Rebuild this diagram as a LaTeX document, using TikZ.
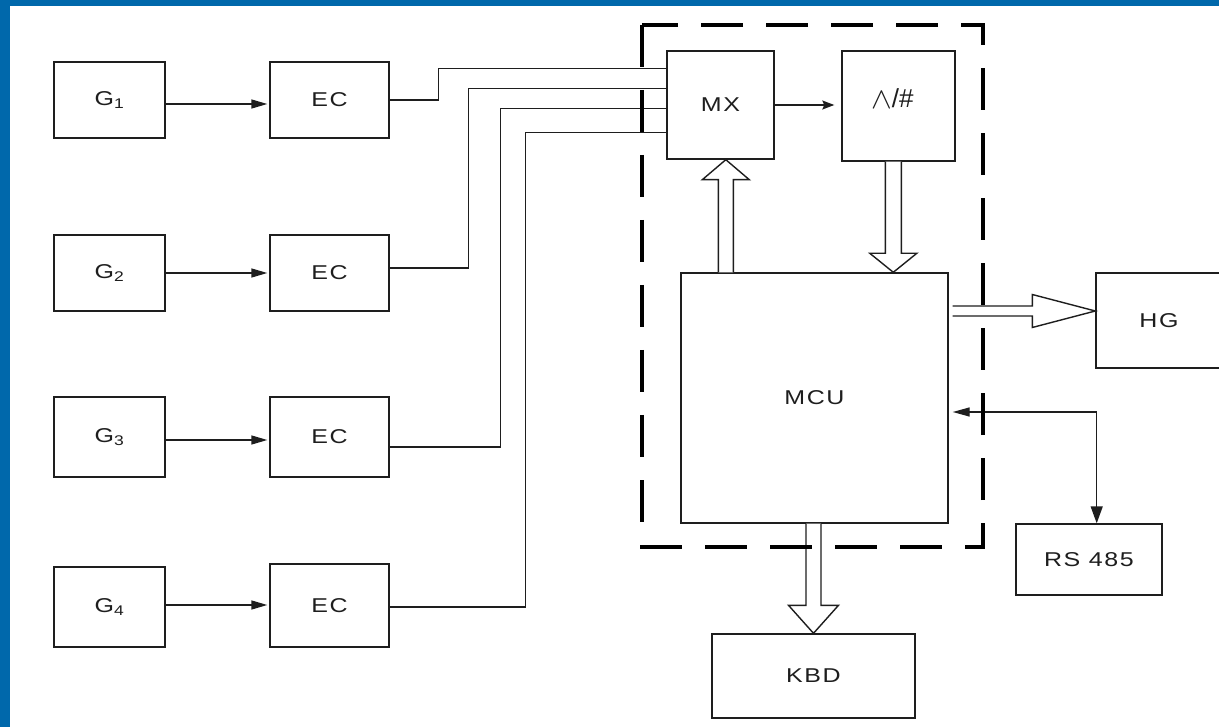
\documentclass[tikz,border=0pt]{standalone}
\usepackage{fontspec}
\usepackage{graphicx}
\setmainfont{Liberation Sans}
\newfontfamily\lblfont[FakeStretch=1.25,LetterSpace=8]{Liberation Sans}
\usetikzlibrary{arrows.meta,calc}
\definecolor{frameblue}{RGB}{0,104,171}
\definecolor{ink}{RGB}{30,30,30}
\begin{document}
\begin{tikzpicture}[x=1pt,y=-1pt,
  blk/.style={draw=ink, line width=1.4pt, inner sep=0pt, text=ink,
    font=\lblfont\fontsize{20}{22}\selectfont},
  wire/.style={draw=ink, line width=1.4pt},
  arr/.style={wire, -{Triangle[length=16pt,width=9pt]}},
  hollow/.style={draw=ink, line width=1.4pt, fill=white, line join=miter},
  frame/.style={draw=black, line width=4pt, dash pattern=on 42pt off 23pt}
]
% background and blue border
\fill[white] (0,0) rectangle (1219,727);
\fill[frameblue] (0,0) rectangle (1219,6);
\fill[frameblue] (0,0) rectangle (10,727);
\useasboundingbox (0,0) rectangle (1219,727);
\clip (0,0) rectangle (1219,727);

% sensor blocks
\node[blk, minimum width=111pt, minimum height=76pt] (g1) at (109.5,100) {G\textsubscript{1}};
\node[blk, minimum width=111pt, minimum height=76pt] (g2) at (109.5,273) {G\textsubscript{2}};
\node[blk, minimum width=111pt, minimum height=80pt] (g3) at (109.5,437) {G\textsubscript{3}};
\node[blk, minimum width=111pt, minimum height=80pt] (g4) at (109.5,607) {G\textsubscript{4}};

\node[blk, minimum width=119pt, minimum height=76pt] (ec1) at (329.5,100) {EC};
\node[blk, minimum width=119pt, minimum height=76pt] (ec2) at (329.5,273) {EC};
\node[blk, minimum width=119pt, minimum height=80pt] (ec3) at (329.5,437) {EC};
\node[blk, minimum width=119pt, minimum height=83pt] (ec4) at (329.5,605.5) {EC};

% core blocks
\node[blk, minimum width=107pt, minimum height=108pt] (mx) at (720.5,105) {MX};
\node[blk, minimum width=113pt, minimum height=110pt] (ad) at (898.5,106) {};
\node[text=ink, font=\fontsize{26}{28}\selectfont, inner sep=0pt] (adlbl) at ($(ad.center)+(-6,-7)$)
  {\raisebox{-1pt}{\scalebox{1.25}[1.2]{\fontsize{30}{32}\selectfont$\wedge$}}\kern-0.5pt/\#};
\node[blk, minimum width=267pt, minimum height=250pt] (mcu) at (814.5,398) {MCU};
\node[blk, minimum width=126pt, minimum height=95pt] (hg) at (1159,320.5) {HG};
\node[blk, minimum width=146pt, minimum height=71pt] (rs) at (1089,559.5) {RS 485};
\node[blk, minimum width=203pt, minimum height=84pt] (kbd) at (813.5,676) {KBD};

% G -> EC arrows
\draw[arr, shorten >=2pt] ($(g1.east)+(0,4)$) coordinate (a1) -- (a1 -| ec1.west);
\draw[arr, shorten >=2pt] (g2.east) -- (g2.east -| ec2.west);
\draw[arr, shorten >=2pt] ($(g3.east)+(0,3)$) coordinate (a3) -- (a3 -| ec3.west);
\draw[arr, shorten >=2pt] ($(g4.east)+(0,-2)$) coordinate (a4) -- (a4 -| ec4.west);

% EC -> MX wires
\draw[wire] (ec1.east) -- ++(49,0) |- ($(mx.north west)+(0,18)$);
\draw[wire] ($(ec2.east)+(0,-5)$) -- ++(79,0) |- ($(mx.north west)+(0,38)$);
\draw[wire] ($(ec3.east)+(0,10)$) -- ++(111,0) |- ($(mx.north west)+(0,58)$);
\draw[wire] ($(ec4.east)+(0,1.5)$) -- ++(136,0) |- ($(mx.north west)+(0,82)$);

% MX -> A/D
\draw[wire, -{Stealth[length=12pt,width=9pt,inset=2pt]}, shorten >=7pt] (mx.east) -- (mx.east -| ad.west);

% hollow bus arrows
\coordinate (ub) at ($(mcu.north west)+(45.5,0)$);
\coordinate (ut) at (ub |- mx.south);
\draw[hollow] ($(ub)+(-7.5,0)$) -- ($(ut)+(-7.5,20)$) -- ($(ut)+(-23.5,20)$) -- (ut)
  -- ($(ut)+(23.5,20)$) -- ($(ut)+(7.5,20)$) -- ($(ub)+(7.5,0)$);

\coordinate (da) at ($(ad.south west)+(52,0)$);
\coordinate (dt) at (da |- mcu.north);
\draw[hollow] ($(da)+(-8,0)$) -- ($(dt)+(-8,-19)$) -- ($(dt)+(-23.5,-19)$) -- (dt)
  -- ($(dt)+(23.5,-19)$) -- ($(dt)+(8,-19)$) -- ($(da)+(8,0)$);

\coordinate (ka) at (kbd.north |- mcu.south);
\coordinate (kt) at (kbd.north);
\draw[hollow] ($(ka)+(-7.5,0)$) -- ($(kt)+(-7.5,-28)$) -- ($(kt)+(-25,-28)$) -- (kt)
  -- ($(kt)+(25,-28)$) -- ($(kt)+(7.5,-28)$) -- ($(ka)+(7.5,0)$);

\coordinate (hs) at ($(mcu.east)+(4,-87)$);
\coordinate (ht) at (hs -| hg.west);
\draw[hollow] ($(hs)+(0,-5)$) -- ($(ht)+(-63,-5)$) -- ($(ht)+(-63,-16.5)$) -- (ht)
  -- ($(ht)+(-63,16.5)$) -- ($(ht)+(-63,5)$) -- ($(hs)+(0,5)$);

% MCU <-> RS 485
\draw[wire, arrows={Triangle[length=17pt,width=9pt]-Triangle[length=17pt,width=12pt]}, shorten <=4pt]
  ($(mcu.east)+(0,14)$) -- ++(148,0) coordinate (rc) -- (rc |- rs.north);

% dashed controller frame
\draw[frame] (642,25) rectangle (983,547);
\end{tikzpicture}
\end{document}
